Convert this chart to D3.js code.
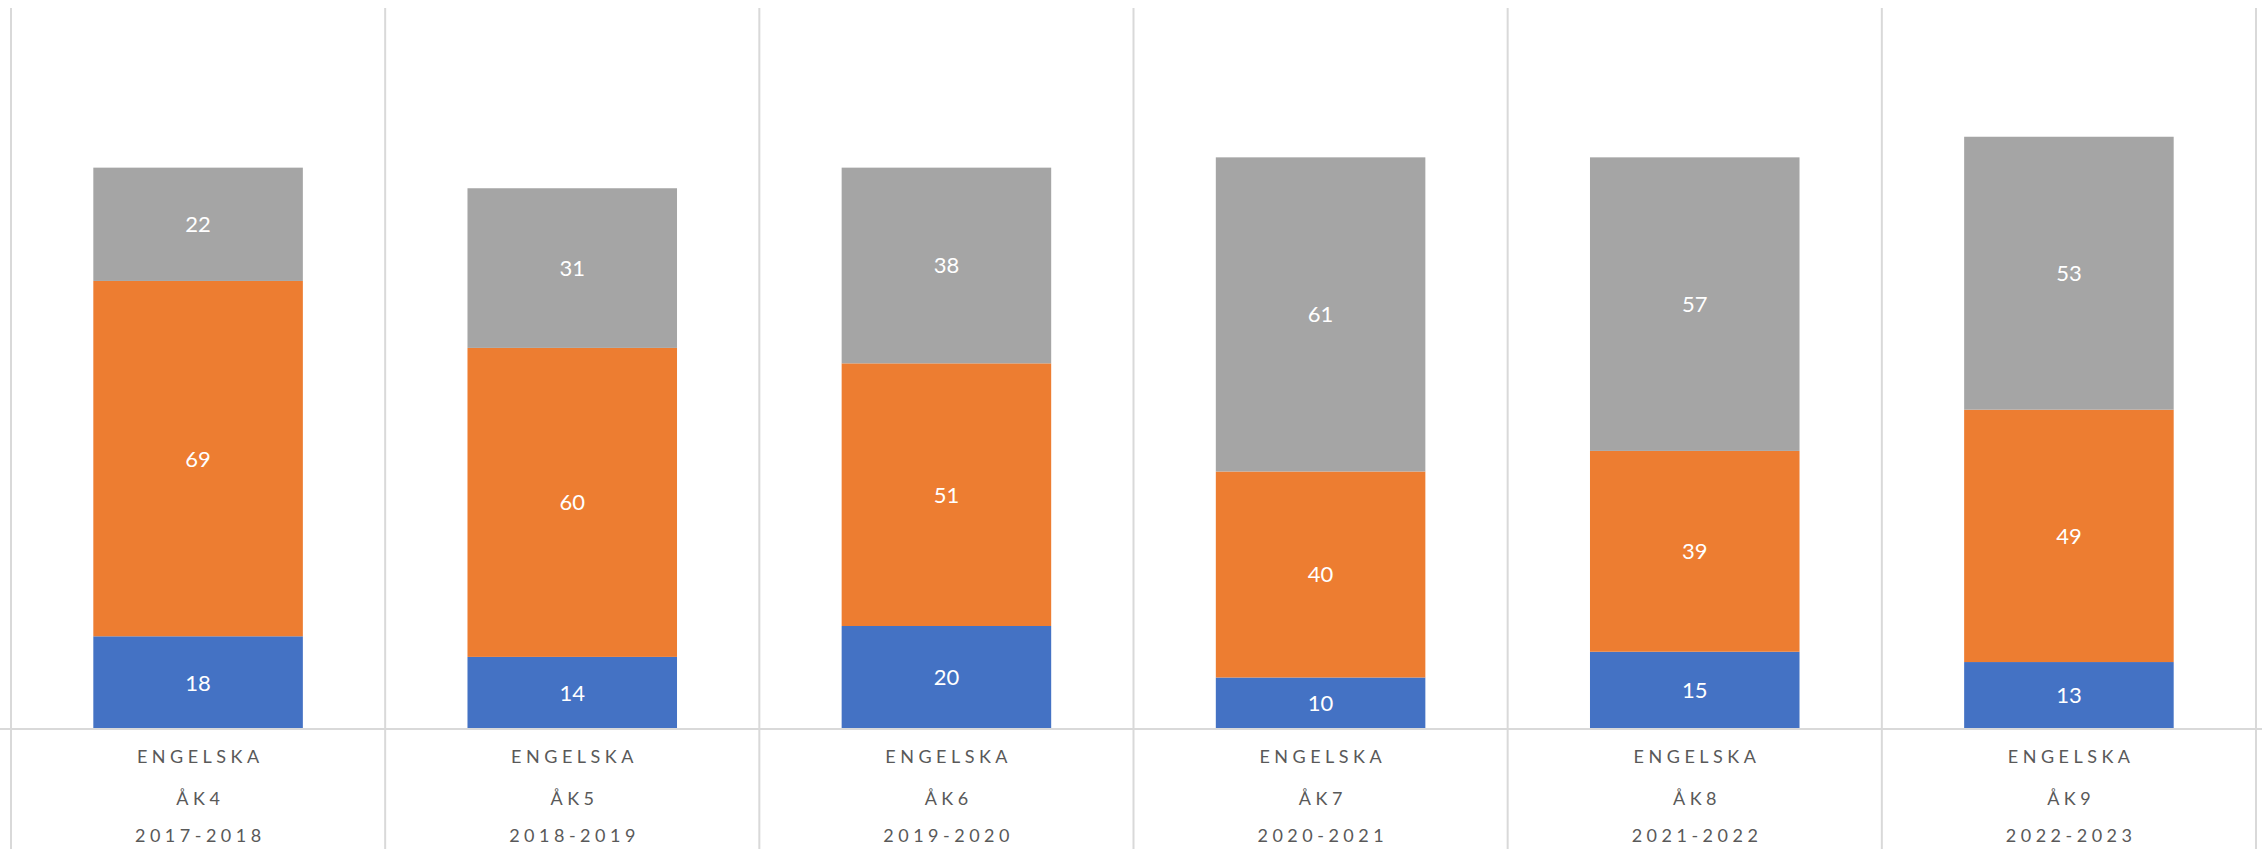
<!DOCTYPE html>
<html>
<head>
<meta charset="utf-8">
<script src="https://cdn.jsdelivr.net/npm/d3@7"></script>
<style>
html,body{margin:0;padding:0;background:#fff;}
svg{display:block;}
</style>
</head>
<body>
<svg id="chart" width="2262" height="849"></svg>
<script>
const subjects = ["ENGELSKA","ENGELSKA","ENGELSKA","ENGELSKA","ENGELSKA","ENGELSKA"];
const grades = ["ÅK4","ÅK5","ÅK6","ÅK7","ÅK8","ÅK9"];
const years = ["2017-2018","2018-2019","2019-2020","2020-2021","2021-2022","2022-2023"];
const seriesA = [18,14,20,10,15,13];
const seriesB = [69,60,51,40,39,49];
const seriesC = [22,31,38,61,57,53];
const seriesKeys = ["a","b","c"];
const colors = ["#4472C4","#ED7D31","#A5A5A5"];

(function(){
const rows = years.map((y,i)=>({key:i, a:seriesA[i], b:seriesB[i], c:seriesC[i]}));

const svg = d3.select("#chart");
const mLeft = 11, mRight = 2256, mTop = 8, axisY = 729, mBottom = 849;

const x = d3.scaleBand().domain(rows.map(d=>d.key)).range([mLeft,mRight]).paddingInner(0).paddingOuter(0);
const y = d3.scaleLinear().domain([0,140]).range([axisY, mTop]);
const barW = x.bandwidth()*0.56;

const stack = d3.stack().keys(seriesKeys)(rows);

// vertical category dividers
const dividers = d3.range(rows.length+1).map(i => mLeft + i*x.bandwidth());
svg.append("g").selectAll("line").data(dividers).join("line")
  .attr("x1",d=>d).attr("x2",d=>d).attr("y1",mTop).attr("y2",mBottom)
  .attr("stroke","#d9d9d9").attr("stroke-width",2);

// bars
const g = svg.append("g");
stack.forEach((s,si)=>{
  g.append("g").selectAll("rect").data(s).join("rect")
    .attr("x",d=>x(d.data.key)+x.bandwidth()/2-barW/2)
    .attr("width",barW)
    .attr("y",d=>y(d[1]))
    .attr("height",d=>y(d[0])-y(d[1]))
    .attr("fill",colors[si]);
});
stack.forEach((s,si)=>{
  g.append("g").selectAll("text").data(s).join("text")
    .attr("x",d=>x(d.data.key)+x.bandwidth()/2)
    .attr("y",d=>(y(d[0])+y(d[1]))/2)
    .attr("dy","0.36em")
    .attr("text-anchor","middle")
    .attr("font-family","Lato, 'Open Sans', sans-serif")
    .attr("font-size",22)
    .attr("fill","#fff")
    .text(d=>d[1]-d[0]);
});

// axis line
svg.append("line").attr("x1",0).attr("x2",2262).attr("y1",axisY).attr("y2",axisY)
  .attr("stroke","#d9d9d9").attr("stroke-width",2);

// category labels
const labelG = svg.append("g")
  .attr("font-family","Lato, 'Open Sans', sans-serif")
  .attr("font-size",18)
  .attr("fill","#595959")
  .attr("text-anchor","middle")
  .attr("letter-spacing","4.5px");
const lines = [subjects, grades, years];
const lineY = [757, 799, 836];
lines.forEach((arr,li)=>{
  labelG.append("g").selectAll("text").data(arr).join("text")
    .attr("x",(d,i)=>x(i)+x.bandwidth()/2+2.25)
    .attr("y",lineY[li])
    .attr("dy","0.36em")
    .text(d=>d);
});
})();
</script>
</body>
</html>
